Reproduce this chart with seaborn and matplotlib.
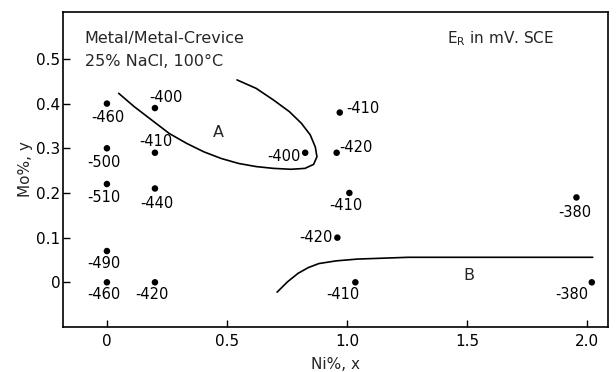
import matplotlib
matplotlib.use("Agg")
import matplotlib.pyplot as plt
import seaborn as sns
import pandas as pd

# ---- data ----
pt_x = [0, 0, 0, 0, 0, 0.2, 0.2, 0.2, 0.2, 0.826, 0.97, 0.957, 1.01, 0.96, 1.035, 1.956, 2.02]
pt_y = [0.40, 0.30, 0.22, 0.07, 0.0, 0.39, 0.29, 0.21, 0.0, 0.29, 0.38, 0.29, 0.20, 0.10, 0.0, 0.19, 0.0]
pt_label = ["-460", "-500", "-510", "-490", "-460", "-400", "-410", "-440", "-420",
            "-400", "-410", "-420", "-410", "-420", "-410", "-380", "-380"]

curveA_x = [0.049, 0.114, 0.187, 0.260, 0.332, 0.404, 0.477, 0.549, 0.622, 0.694, 0.767,
            0.825, 0.861, 0.875, 0.868, 0.847, 0.810, 0.760, 0.694, 0.622, 0.542]
curveA_y = [0.423, 0.393, 0.363, 0.333, 0.311, 0.292, 0.277, 0.266, 0.259, 0.255, 0.253,
            0.255, 0.264, 0.281, 0.303, 0.330, 0.356, 0.382, 0.408, 0.434, 0.453]
curveB_x = [0.709, 0.752, 0.796, 0.839, 0.883, 0.955, 1.043, 1.149, 1.255, 2.024]
curveB_y = [-0.022, 0.001, 0.020, 0.033, 0.042, 0.048, 0.052, 0.054, 0.056, 0.056]

x_ticks = [0, 0.5, 1.0, 1.5, 2.0]
x_ticklabels = ["0", "0.5", "1.0", "1.5", "2.0"]
y_ticks = [0, 0.1, 0.2, 0.3, 0.4, 0.5]
y_ticklabels = ["0", "0.1", "0.2", "0.3", "0.4", "0.5"]

# ---- label placement (style) ----
lab_dx = [1, -3, -3, -3, -3, 11, 1, 2, -3, -5, 6, 3, -3, -5, -12, -2, -3]
lab_dy = [-14, -14, -13, -12, -12, 11, 11, -15, -12, -4, 4, 5, -13, 0, -12, -15, -12]
lab_ha = ["center"] * 9 + ["right", "left", "left", "center", "right", "center", "center", "right"]

sns.set_style("ticks")
plt.rcParams["font.family"] = ["DejaVu Sans"]
plt.rcParams["xtick.direction"] = "in"
plt.rcParams["ytick.direction"] = "in"

fig = plt.figure(figsize=(6.16, 3.72), dpi=100)
ax = fig.add_axes([63 / 616, 1 - 327 / 372, (608 - 63) / 616, (327 - 12) / 372])

pts = pd.DataFrame({"x": pt_x, "y": pt_y})
sns.scatterplot(data=pts, x="x", y="y", ax=ax, color="black", s=22, edgecolor="none", zorder=3)

dfa = pd.DataFrame({"x": curveA_x, "y": curveA_y})
dfb = pd.DataFrame({"x": curveB_x, "y": curveB_y})
sns.lineplot(data=dfa, x="x", y="y", ax=ax, sort=False, estimator=None, color="black",
             lw=1.2, solid_joinstyle="round", solid_capstyle="round")
sns.lineplot(data=dfb, x="x", y="y", ax=ax, sort=False, estimator=None, color="black",
             lw=1.2, solid_joinstyle="round", solid_capstyle="round")

for x, y, t, dx, dy, ha in zip(pt_x, pt_y, pt_label, lab_dx, lab_dy, lab_ha):
    ax.annotate(t, (x, y), xytext=(dx, dy), textcoords="offset pixels",
                ha=ha, va="center", fontsize=10.5, color="black")

ax.text(0.465, 0.336, "A", fontsize=11.5, ha="center", va="center")
ax.text(1.506, 0.016, "B", fontsize=11.5, ha="center", va="center")

ax.text(-0.093, 0.545, "Metal/Metal-Crevice", fontsize=11.5, ha="left", va="center")
ax.text(-0.093, 0.495, "25% NaCl, 100°C", fontsize=11.5, ha="left", va="center")
ax.text(1.417, 0.545, r"E$_\mathregular{R}$ in mV. SCE", fontsize=11, ha="left", va="center")

ax.set_xlim(-0.183, 2.0875)
ax.set_ylim(-0.1, 0.605)
ax.set_xticks(x_ticks)
ax.set_xticklabels(x_ticklabels)
ax.set_yticks(y_ticks)
ax.set_yticklabels(y_ticklabels)
ax.tick_params(axis="both", labelsize=11, length=5, width=1, colors="black")
ax.tick_params(axis="y", pad=2)
ax.tick_params(axis="x", pad=5)
ax.set_xlabel("Ni%, x", fontsize=11, labelpad=6)
ax.set_ylabel("Mo%, y", fontsize=11, labelpad=2)
for s in ax.spines.values():
    s.set_linewidth(1.2)
    s.set_color("black")

fig.savefig("out.png", dpi=100)
